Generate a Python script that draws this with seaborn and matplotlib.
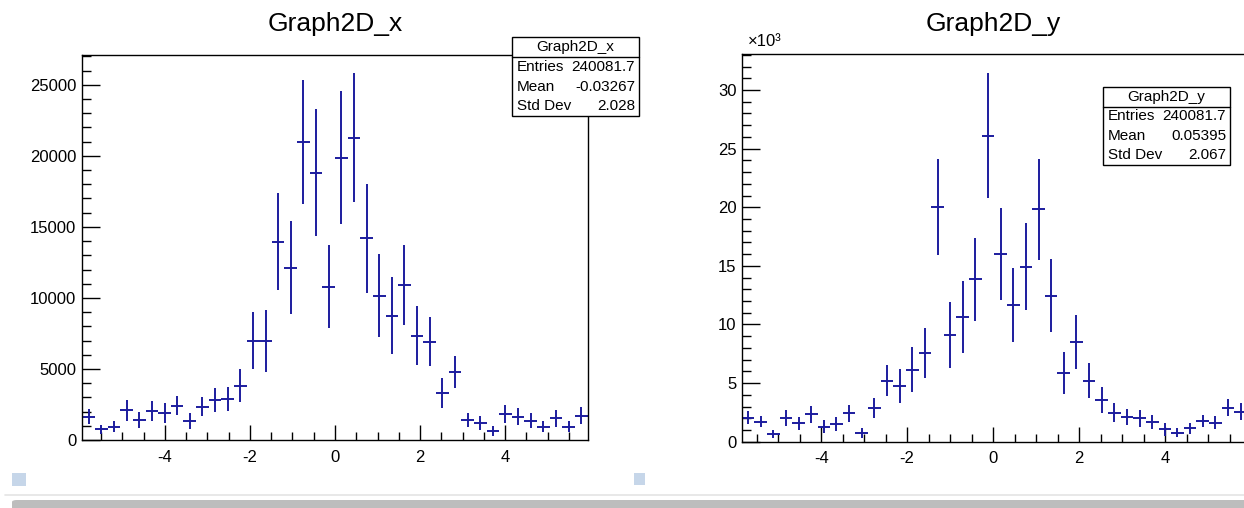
import numpy as np
import seaborn as sns
import matplotlib
matplotlib.use("Agg")
import matplotlib.pyplot as plt
from matplotlib.patches import Rectangle, FancyBboxPatch
from matplotlib.ticker import MultipleLocator, FuncFormatter

# ---- data (40 bins per histogram) ----
x_range_x = (-5.94, 5.94)
counts_x = [1650, 750, 940, 2110, 1410, 2065, 1925, 2420, 1340, 2350,
            2820, 2890, 3830, 6995, 6995, 13965, 12135, 21010, 18825, 10795,
            19880, 21290, 14200, 10165, 8755, 10915, 7350, 6925, 3285, 4765,
            1410, 1170, 635, 1830, 1645, 1340, 940, 1525, 940, 1715]
errors_x = [530, 320, 390, 740, 590, 700, 700, 680, 560, 670,
            820, 845, 1185, 1995, 2190, 3440, 3250, 4365, 4460, 2910,
            4660, 4520, 3850, 2900, 2700, 2830, 2090, 1740, 1055, 1115,
            515, 490, 350, 610, 585, 530, 390, 610, 375, 585]

x_range_y = (-5.845, 5.898)
counts_y = [2050, 1710, 660, 2000, 1570, 2340, 1280, 1510, 2420, 710,
            2900, 5210, 4750, 6120, 7600, 20050, 9100, 10670, 13860, 26110,
            15990, 11660, 14930, 19830, 12460, 5890, 8530, 5200, 3560, 2470,
            2130, 2000, 1710, 1060, 770, 1140, 1790, 1620, 2900, 2560]
errors_y = [570, 450, 360, 670, 530, 710, 570, 580, 750, 430,
            850, 1340, 1440, 1920, 2130, 4100, 2840, 3080, 3540, 5360,
            3910, 3130, 3700, 4290, 3100, 1780, 2300, 1510, 1110, 830,
            670, 710, 610, 540, 380, 480, 530, 540, 740, 710]

names = ["Graph2D_x", "Graph2D_y"]
stats = {
    "Graph2D_x": [("Entries", "240081.7"), ("Mean", "-0.03267"), ("Std Dev", "2.028")],
    "Graph2D_y": [("Entries", "240081.7"), ("Mean", "0.05395"), ("Std Dev", "2.067")],
}

sns.set_theme(style="white")
plt.rcParams["font.family"] = ["Liberation Sans", "DejaVu Sans"]
plt.rcParams["axes.unicode_minus"] = False
plt.rcParams["text.color"] = "black"
plt.rcParams["xtick.color"] = "black"
plt.rcParams["ytick.color"] = "black"
plt.rcParams["xtick.labelcolor"] = "black"
plt.rcParams["ytick.labelcolor"] = "black"

W, H = 1244, 508
fig = plt.figure(figsize=(W / 100, H / 100), dpi=100)
fig.patch.set_facecolor("white")

def fx(px):
    return px / W

def fy(py):
    return 1 - py / H

blue = "#1c1c9e"

def draw_hist(ax, rng, counts, errors):
    edges = np.linspace(rng[0], rng[1], len(counts) + 1)
    centers = (edges[:-1] + edges[1:]) / 2
    half = (edges[1] - edges[0]) / 2
    ax.errorbar(centers, counts, xerr=half, yerr=errors, fmt="none",
                ecolor=blue, elinewidth=1.4, capsize=0)

def style_axes(ax, ylen):
    for s in ax.spines.values():
        s.set_color("black")
        s.set_linewidth(1.0)
    ax.xaxis.set_major_locator(MultipleLocator(2))
    ax.xaxis.set_minor_locator(MultipleLocator(0.5))
    ax.tick_params(axis="x", which="major", direction="in", length=10.5, width=1,
                   color="black", labelcolor="black", labelsize=12, pad=7,
                   top=False, bottom=True)
    ax.tick_params(axis="x", which="minor", direction="in", length=5.5, width=1,
                   color="black", top=False, bottom=True)
    ax.tick_params(axis="y", which="major", direction="in", length=ylen, width=1,
                   color="black", labelcolor="black", labelsize=12, pad=4,
                   left=True, right=False)
    ax.tick_params(axis="y", which="minor", direction="in", length=ylen / 2, width=1,
                   color="black", left=True, right=False)
    ax.set_xlabel("")
    ax.set_ylabel("")
    ax.grid(False)

# left panel
ax1 = fig.add_axes([fx(82), fy(440), fx(588) - fx(82), fy(55) - fy(440)])
draw_hist(ax1, x_range_x, counts_x, errors_x)
ax1.set_xlim(-5.95, 5.95)
ax1.set_ylim(0, 27100)
ax1.yaxis.set_major_locator(MultipleLocator(5000))
ax1.yaxis.set_minor_locator(MultipleLocator(1000))
style_axes(ax1, 13)

# right panel (cut at the right image edge)
ax2 = fig.add_axes([fx(742), fy(441.7), 505 / W, (441.7 - 54.3) / H])
draw_hist(ax2, x_range_y, counts_y, errors_y)
ax2.set_xlim(-5.84, 5.90)
ax2.set_ylim(0, 33050)
ax2.yaxis.set_major_locator(MultipleLocator(5000))
ax2.yaxis.set_minor_locator(MultipleLocator(1000))
ax2.yaxis.set_major_formatter(FuncFormatter(lambda v, p: f"{v / 1000:g}"))
style_axes(ax2, 13)
fig.text(fx(748), fy(42), "×10³", fontsize=12, ha="left", va="center")

# titles
fig.text(fx(335), fy(24), names[0], fontsize=19, ha="center", va="center")
fig.text(fx(993), fy(24), names[1], fontsize=19, ha="center", va="center")

# stats boxes
def stat_box(name, x0, x1, y0, y1):
    fig.patches.append(Rectangle((fx(x0), fy(y1)), fx(x1) - fx(x0), fy(y0) - fy(y1),
                                 transform=fig.transFigure, facecolor="white",
                                 edgecolor="black", lw=1.0, zorder=5))
    row = (y1 - y0) / 4
    fig.lines.append(plt.Line2D([fx(x0), fx(x1)], [fy(y0 + row), fy(y0 + row)],
                                transform=fig.transFigure, color="black", lw=1.0, zorder=6))
    fig.text(fx((x0 + x1) / 2), fy(y0 + row * 0.5), name, fontsize=11,
             ha="center", va="center", zorder=7)
    for i, (k, v) in enumerate(stats[name]):
        yy = fy(y0 + row * (1.5 + i))
        fig.text(fx(x0 + 5), yy, k, fontsize=11, ha="left", va="center", zorder=7)
        fig.text(fx(x1 - 4), yy, v, fontsize=11, ha="right", va="center", zorder=7)

stat_box("Graph2D_x", 512, 639, 37.5, 116)
stat_box("Graph2D_y", 1103, 1230, 87, 165)

# page decorations under the canvases
fig.patches.append(Rectangle((fx(12), fy(486)), 14 / W, 13 / H, transform=fig.transFigure,
                             facecolor="#c6d6e9", edgecolor="none"))
fig.patches.append(Rectangle((fx(634), fy(485)), 11 / W, 12 / H, transform=fig.transFigure,
                             facecolor="#c6d6e9", edgecolor="none"))
fig.lines.append(plt.Line2D([fx(5), 1], [fy(495), fy(495)], transform=fig.transFigure,
                            color="#e4e4e4", lw=1.2))
fig.patches.append(FancyBboxPatch((fx(12), fy(512)), 1.1, 12 / H, transform=fig.transFigure,
                                  boxstyle="round,pad=0,rounding_size=0.004",
                                  facecolor="#bdbdbd", edgecolor="none"))

fig.savefig("out.png", dpi=100)
